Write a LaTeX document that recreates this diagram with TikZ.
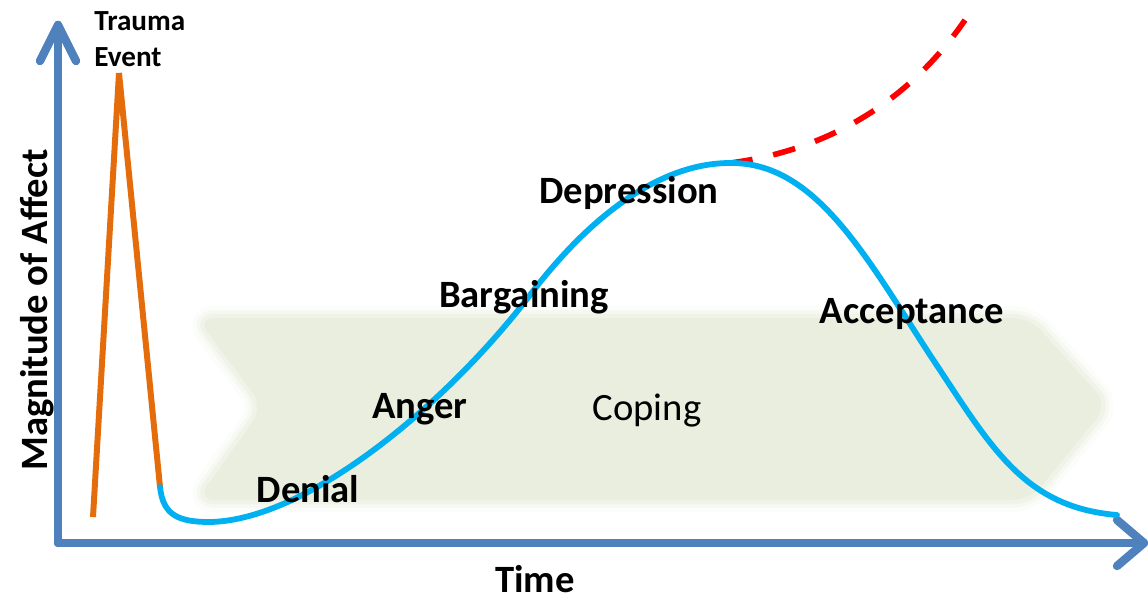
\documentclass[tikz,border=0pt]{standalone}
\usepackage{fontspec}
\setmainfont{Carlito}
\begin{document}
\begin{tikzpicture}[x=0.02cm,y=-0.02cm,
  axis/.style={draw=axisblue,line width=4.8pt,line cap=round,line join=round},
  lbl/.style={font=\fontsize{22}{26}\selectfont\bfseries,inner sep=0pt,anchor=base},
  small/.style={font=\fontsize{16.6}{19}\selectfont\bfseries,inner sep=0pt,anchor=base west},
  curve/.style={draw=curveblue,line width=3.3pt,line cap=round},
]
\definecolor{axisblue}{HTML}{4F81BD}
\definecolor{curveblue}{HTML}{00B0F0}
\definecolor{trauma}{HTML}{E46C0A}
\definecolor{chev}{HTML}{EAEEDF}
\useasboundingbox (0,0) rectangle (1148,600);
% coping chevron (soft edge)
\foreach \w/\o in {14/0.15,9/0.3,5/0.5}{
  \draw[chev,line width=\w pt,opacity=\o,rounded corners=10,line join=round]
    (197,318) -- (1030,318) -- (1108,405) -- (1030,500) -- (197,500) -- (263,407) -- cycle;
}
\fill[chev,rounded corners=10] (197,318) -- (1030,318) -- (1108,405) -- (1030,500) -- (197,500) -- (263,407) -- cycle;
\node[font=\fontsize{22}{26}\selectfont,inner sep=0pt,anchor=base] (coping) at (647,420) {Coping};
% axes
\coordinate (origin) at (58,543);
\coordinate (ytip) at (58,25);
\coordinate (xtip) at (1144,543);
\draw[axis] (origin) -- (ytip);
\draw[axis] (40,61) -- (ytip) -- (76,61);
\draw[axis] (origin) -- (xtip);
\draw[axis] (1117,520) -- (xtip) -- (1117,566);
% trauma spike
\coordinate (t0) at (93,517);
\coordinate (tpeak) at (119,73);
\coordinate (t1) at (160,487);
\draw[trauma,line width=3.4pt,line join=miter] (t0) -- (tpeak) -- (t1);
% red dashed
\coordinate (peak) at (730,163);
\coordinate (redend) at (965,20);
\draw[red,line width=3.2pt,dash pattern=on 13pt off 12pt]
  (peak) .. controls (830,150) and (910,100) .. (redend);
% blue curve
\coordinate (bottom) at (210,522);
\coordinate (infl1) at (530,295);
\coordinate (infl2) at (930,355);
\coordinate (endc) at (1117,515);
\draw[curve] (t1) .. controls (163,515) and (178,522) .. (bottom)
  .. controls (310,520) and (450,400) .. (infl1)
  .. controls (590,216) and (660,163) .. (peak)
  .. controls (815,162) and (865,255) .. (infl2)
  .. controls (990,445) and (1022,507) .. (endc);
% labels
\node[small] (traumalbl) at (94,30) {Trauma};
\node[small] (eventlbl) at (94,66) {Event};
\node[lbl] (denial) at (308,502) {Denial};
\node[lbl] (anger) at (420,418) {Anger};
\node[lbl] (bargaining) at (524,307) {Bargaining};
\node[lbl] (depression) at (629,203) {Depression};
\node[lbl] (acceptance) at (912,323) {Acceptance};
\node[lbl] (time) at (535,592) {Time};
\node[lbl,rotate=90] (magnitude) at (47,310) {Magnitude of Affect};
\end{tikzpicture}
\end{document}
